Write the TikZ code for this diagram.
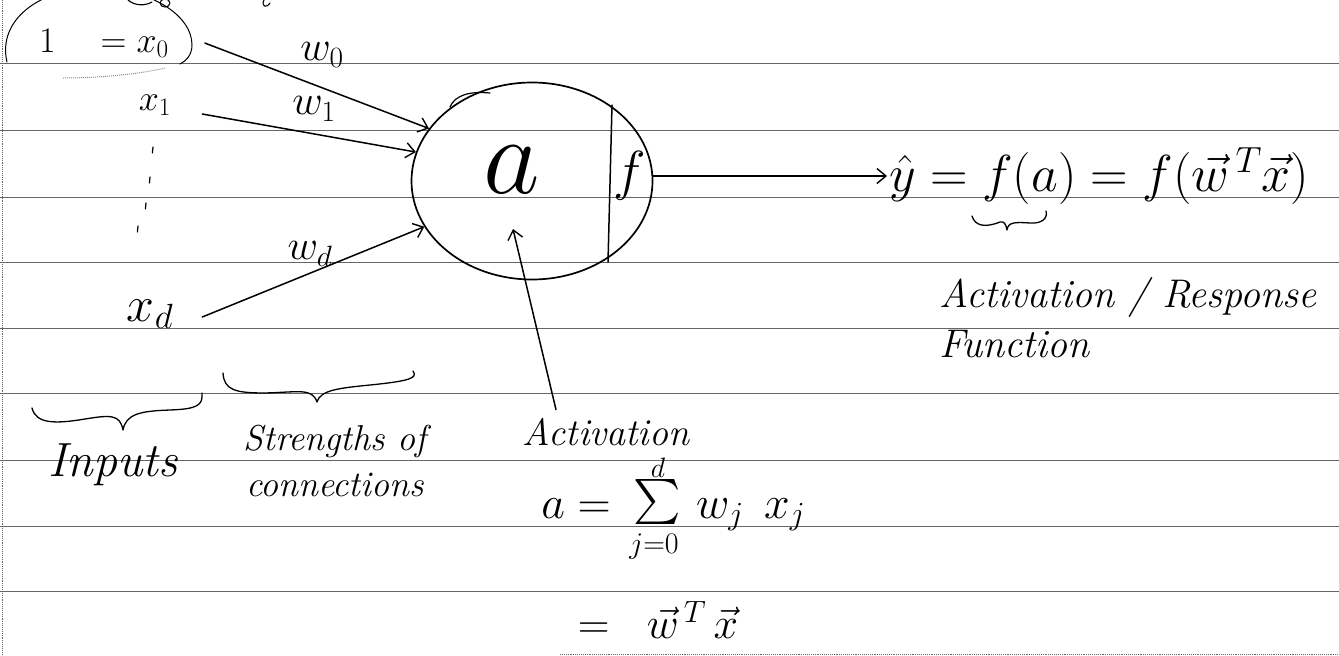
\RequirePackage{fix-cm}
\documentclass[tikz,border=0pt]{standalone}
\usepackage{graphicx}
\usetikzlibrary{arrows.meta,shapes.geometric}
\begin{document}
\begin{tikzpicture}[x=1pt,y=-1pt,
  hand/.style={line width=1.5pt, line cap=round, line join=round},
  conn/.style={hand, -{Straight Barb[length=9pt,width=15pt,line width=1.4pt]}},
  rule/.style={black!60, line width=0.9pt},
  fsz/.style={inner sep=1pt, font=\fontsize{#1}{#1}\selectfont},
  txt/.style={inner sep=1pt, font=\itshape\fontsize{#1}{#1}\selectfont}]
\fill[white] (0,0) rectangle (1339,656);
\useasboundingbox (0,0) rectangle (1339,656);
% ruled paper
\foreach \yy in {63,130,197,262,328,393,460,526,591}
  \draw[rule] (0,\yy) -- (1339,\yy);
\draw[rule, densely dotted] (560,654) -- (1339,654);
\draw[rule, densely dotted] (2,0) -- (2,656);
% remnants of the line above
\draw[hand, line width=1.1pt] (128,0) .. controls (135,6) and (145,6) .. (152,2);
\draw[hand, line width=1.1pt] (165,3) ellipse [x radius=5, y radius=4];
\draw[hand, line width=1.1pt] (264,0) .. controls (261,6) and (266,9) .. (270,3);
% loop round 1 = x0
\draw[hand, line width=1pt] (7,62) .. controls (-3,20) and (40,-12) .. (95,-12)
  .. controls (150,-12) and (192,15) .. (192,45) .. controls (192,55) and (186,61) .. (180,64);
\draw[black!45, densely dotted, line width=1pt] (63,78) .. controls (100,78) and (140,74) .. (165,68);
% neuron
\node[draw, hand, line width=1.7pt, ellipse, minimum width=241, minimum height=197, inner sep=0] (neuron) at (532,181) {};
\draw[hand] (612,105) -- (608,262);
\draw[hand, line width=1.2pt] (450,107) .. controls (455,95) and (470,91) .. (490,93);
\node[fsz=110] (aa) at (512,170) {$a$};
\node[fsz=55] (fn) at (630,176) {$f$};
% inputs
\node[fsz=36, anchor=base west] (x0) at (38,52) {$1$\hspace{45pt}$=x_0$};
\node[fsz=36] (x1) at (155,105) {$x_1$};
\node[fsz=50] (xd) at (150,314) {$x_d$};
\foreach \px/\py in {153/147,150/177,146/203,138/226}
  \draw[hand, line width=1.2pt] (\px,\py) -- ++(-0.6,6);
% weights
\node[fsz=42] (w0) at (322,55) {$w_0$};
\node[fsz=42] (w1) at (314,109) {$w_1$};
\node[fsz=42] (wd) at (310,254) {$w_d$};
\draw[conn] (x0.east) ++(35,0) -- (neuron.153);
\draw[conn] (x1.east) ++(30,9) -- (neuron.166);
\draw[conn] (xd.east) ++(28,3) -- (neuron.203);
% output
\node[fsz=52, anchor=west, inner sep=2pt] (yhat) at (887,176) {$\hat{y} = f(a) = f(\vec{w}^{\,T}\vec{x})$};
\draw[conn] (neuron.east |- yhat.west) -- (yhat.west);
\draw[hand, line width=1.3pt] (972,216) .. controls (975,226) and (985,228) .. (1000,222)
  .. controls (1004,221) and (1006,224) .. (1007,230) .. controls (1008,222) and (1015,222) .. (1030,223)
  .. controls (1042,224) and (1048,218) .. (1046,211);
\node[anchor=north west, align=left, inner sep=1pt, font=\itshape\fontsize{40}{50}\selectfont] (resp) at (938,276) {Activation / Response\\Function};
% braces
\draw[hand, line width=1.3pt] (32,408) .. controls (36,424) and (55,424) .. (85,419)
  .. controls (110,415) and (120,414) .. (123,430) .. controls (126,414) and (140,411) .. (170,410)
  .. controls (198,409) and (203,405) .. (202,393);
\draw[hand, line width=1.3pt] (223,373) .. controls (224,390) and (235,393) .. (265,393)
  .. controls (300,392) and (312,388) .. (317,402) .. controls (320,390) and (340,388) .. (370,385)
  .. controls (410,381) and (418,378) .. (413,371);
\node[txt=48, anchor=base] (inp) at (113,476) {Inputs};
\node[anchor=north, align=center, inner sep=1pt, font=\itshape\fontsize{36}{46}\selectfont] (str) at (335,424) {Strengths of\\connections};
% activation
\node[txt=38, anchor=base] (act) at (606,445) {Activation};
\coordinate (acttip) at (513,229);
\draw[conn] (act.north) ++(-50,-7) -- (acttip);
% a = sum_{j=0}^{d} w_j x_j
\node[fsz=46, anchor=base east] (alhs) at (612,518) {$a =$};
\node[inner sep=0pt] (sig) at (657,502) {\scalebox{4.5}{$\sum$}};
\node[fsz=28, inner sep=0pt] (sigtop) at (658,468) {$d$};
\node[fsz=30] (sigbot) at (654,547) {$j{=}0$};
\node[fsz=46, anchor=base west] (arhs) at (695,518) {$w_j\;\, x_j$};
\node[fsz=44] (wtx) at (658,620) {$=\hspace{25pt}\vec{w}^{\,T}\,\vec{x}$};
\end{tikzpicture}
\end{document}
